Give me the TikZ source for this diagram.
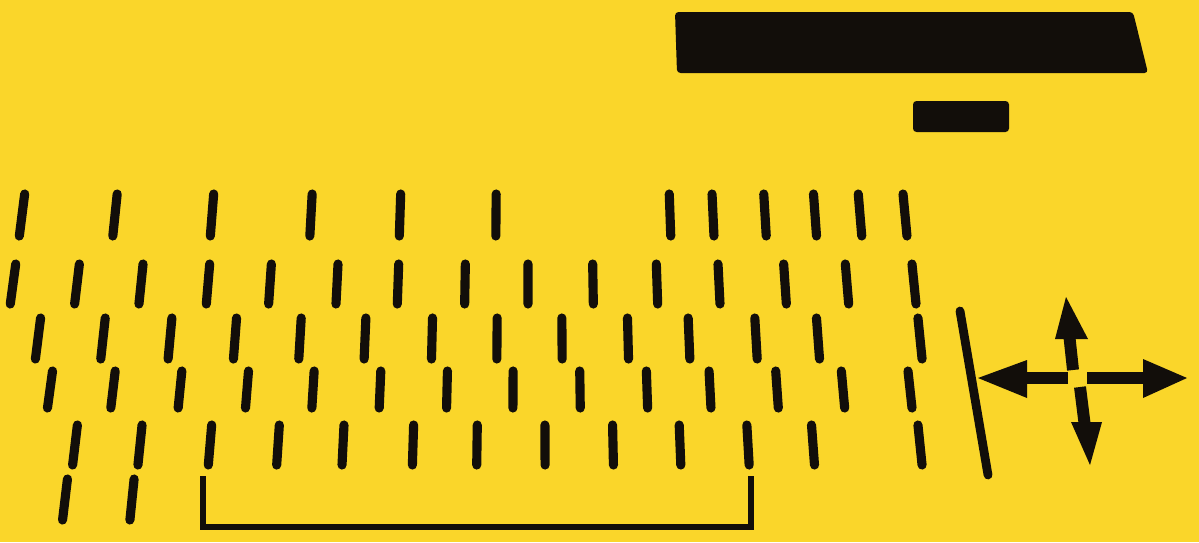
\documentclass[tikz,border=0pt]{standalone}
\definecolor{bgyellow}{RGB}{250,214,42}
\definecolor{ink}{RGB}{18,14,10}
\begin{document}
\begin{tikzpicture}[x=0.02cm,y=-0.02cm,
  tickmark/.style={draw=ink,line width=5.2pt,line cap=round},
  shaft/.style={draw=ink,line width=6.8pt},
  headfill/.style={fill=ink}]
\fill[bgyellow] (0,0) rectangle (1199,542);
\useasboundingbox (0,0) rectangle (1199,542);
% display bars
\fill[ink,rounded corners=2pt] (675,12) -- (1133,12) -- (1148,73) -- (677,73) -- cycle;
\fill[ink,rounded corners=2pt] (913,101) rectangle (1009,132);
% key rows
\newcommand{\keyrow}[3]{%
  \foreach \x in {#3} {
    \draw[tickmark] ({\x+(530-\x)/190},#1) -- ({\x-(530-\x)/190},#2);
  }}
\keyrow{194}{236}{22,115,212,311,400,496,670,713,765,815,860,905}
\keyrow{264}{304}{13,77,141,208,270,337,398,465,528,593,657,719,785,847,914}
\keyrow{318}{359}{38,103,170,235,300,365,432,497,562,628,689,756,818,920}
\keyrow{371}{408}{50,113,180,247,313,380,447,513,580,647,710,777,843,910}
\keyrow{425}{465}{75,140,210,278,343,413,477,545,613,680,748,813,920}
\keyrow{479}{520}{65,132}
% space bar bracket
\draw[ink,line width=3pt] (203,476) -- (203,527) -- (751,527) -- (751,476);
% long bar
\draw[ink,line width=5pt,line cap=round] (960,311) -- (988,475);
% arrows
\draw[shaft] (1068,378) -- (1022,378);
\fill[headfill] (978,378) -- (1027,360) -- (1027,398) -- cycle;
\draw[shaft] (1087,378) -- (1148,378);
\fill[headfill] (1187,378) -- (1143,359) -- (1143,398) -- cycle;
\draw[shaft] (1073,370) -- (1069,333);
\fill[headfill] (1066,297) -- (1055,339) -- (1088,339) -- cycle;
\draw[shaft] (1080,387) -- (1085,427);
\fill[headfill] (1090,465) -- (1071,422) -- (1102,422) -- cycle;
\end{tikzpicture}
\end{document}
